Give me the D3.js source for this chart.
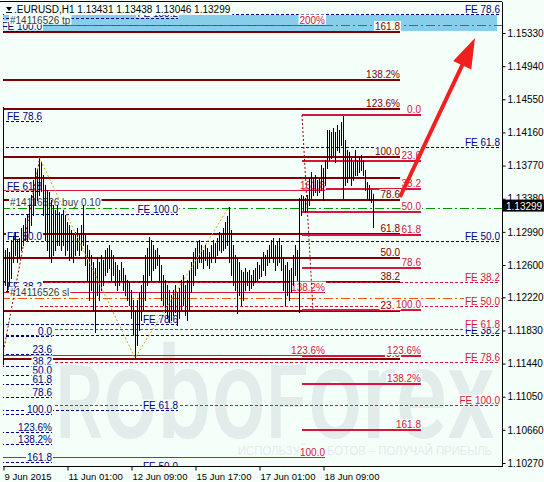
<!DOCTYPE html>
<html>
<head>
<meta charset="utf-8">
<script src="https://cdn.jsdelivr.net/npm/d3@7"></script>
<style>
  body { margin: 0; background: #F5FFFA; }
  svg { display: block; font-family: "Liberation Sans", Arial, sans-serif; }
</style>
</head>
<body>
<svg id="chart" width="544" height="482"></svg>
<script>
// ---- EURUSD H1 hourly bars (high / low) ----
const barHigh = [
  1.12835,1.12777,1.12800,1.12753,1.12894,1.12941,1.12988,1.12894,1.12918,1.13035,
  1.13071,1.13153,1.13188,1.13306,1.13424,1.13600,1.13742,1.13718,1.13871,1.13812,
  1.13659,1.13542,1.13483,1.13459,1.13365,1.13306,1.13247,1.13306,1.13224,1.13188,
  1.13247,1.13188,1.13106,1.13071,1.13012,1.12953,1.12988,1.13035,1.12953,1.13071,
  1.13306,1.12953,1.12835,1.12777,1.12718,1.12635,1.12565,1.12682,1.12635,1.12718,
  1.12659,1.12777,1.12800,1.12835,1.12777,1.12718,1.12635,1.12600,1.12541,1.12635,
  1.12565,1.12483,1.12424,1.12400,1.12306,1.12188,1.12071,1.12188,1.12282,1.12365,
  1.12483,1.12718,1.12800,1.12930,1.12894,1.12835,1.12777,1.12800,1.12718,1.12600,
  1.12483,1.12424,1.12365,1.12306,1.12247,1.12306,1.12365,1.12282,1.12329,1.12424,
  1.12483,1.12365,1.12424,1.12541,1.12635,1.12753,1.12800,1.12871,1.12894,1.12835,
  1.12777,1.12835,1.12800,1.12753,1.12835,1.12894,1.12859,1.12918,1.12988,1.12953,
  1.13035,1.13106,1.13177,1.13283,1.13012,1.12835,1.12718,1.12682,1.12635,1.12541,
  1.12518,1.12565,1.12518,1.12541,1.12483,1.12541,1.12565,1.12635,1.12600,1.12682,
  1.12753,1.12718,1.12777,1.12835,1.12894,1.12918,1.12835,1.12871,1.12918,1.12835,
  1.12682,1.12600,1.12635,1.12541,1.12565,1.12718,1.12835,1.12777,1.13389,1.13424,
  1.13412,1.13389,1.13424,1.13624,1.13695,1.13624,1.13659,1.13600,1.13624,1.13777,
  1.13742,1.13836,1.14189,1.14189,1.14165,1.14212,1.14165,1.14248,1.14189,1.14283,
  1.14354,1.14071,1.13954,1.13930,1.13859,1.13812,1.13954,1.13836,1.13859,1.13895,
  1.13836,1.13718,1.13577,1.13542,1.13483,1.13438
];
const barLow = [
  1.12483,1.12365,1.12306,1.12365,1.12447,1.12635,1.12718,1.12635,1.12682,1.12777,
  1.12835,1.12894,1.12894,1.12988,1.13071,1.13188,1.13306,1.13365,1.13424,1.13483,
  1.13188,1.12894,1.12777,1.12682,1.12635,1.12718,1.12777,1.12835,1.12835,1.12777,
  1.12835,1.12718,1.12777,1.12659,1.12682,1.12635,1.12718,1.12777,1.12718,1.12777,
  1.12835,1.12600,1.12424,1.12188,1.12306,1.12071,1.11812,1.12247,1.12188,1.12306,
  1.12365,1.12483,1.12518,1.12565,1.12424,1.12483,1.12365,1.12306,1.12365,1.12424,
  1.12306,1.12247,1.12188,1.12129,1.11977,1.11777,1.11506,1.11659,1.11836,1.11953,
  1.12071,1.12188,1.12365,1.12483,1.12424,1.12541,1.12565,1.12600,1.12424,1.12188,
  1.12129,1.12047,1.11977,1.11930,1.11953,1.12012,1.12047,1.11894,1.11977,1.12071,
  1.12129,1.12012,1.11953,1.12071,1.12282,1.12365,1.12483,1.12565,1.12635,1.12635,
  1.12565,1.12659,1.12600,1.12565,1.12635,1.12682,1.12635,1.12718,1.12777,1.12753,
  1.12777,1.12800,1.12835,1.12635,1.12483,1.12365,1.12306,1.12035,1.12247,1.12129,
  1.12188,1.12306,1.12365,1.12306,1.12329,1.12365,1.12400,1.12424,1.12447,1.12471,
  1.12541,1.12483,1.12600,1.12635,1.12682,1.12635,1.12541,1.12600,1.12635,1.12541,
  1.12306,1.12129,1.12247,1.12188,1.12282,1.12365,1.12483,1.12424,1.12047,1.13188,
  1.13247,1.13224,1.13247,1.13306,1.13389,1.13424,1.13459,1.13424,1.13459,1.13483,
  1.13365,1.13542,1.13742,1.13836,1.13859,1.13895,1.13812,1.13954,1.13930,1.14012,
  1.13389,1.13542,1.13577,1.13624,1.13542,1.13600,1.13659,1.13659,1.13695,1.13718,
  1.13659,1.13483,1.13389,1.13365,1.13341,1.13046
];

// ---- axis ticks ----
const priceTicks = [1.15330,1.14940,1.14550,1.14160,1.13770,1.13380,1.12990,
                    1.12600,1.12220,1.11830,1.11440,1.11050,1.10660,1.10270];
const timeTicks = [0, 32, 64, 96, 128, 160];
const timeLabels = ["9 Jun 2015","11 Jun 01:00","12 Jun 09:00","15 Jun 17:00","17 Jun 01:00","18 Jun 09:00"];

// ---- header quote ----
const symbolTitle = ".EURUSD,H1";
const quoteOHLC = ["1.13431","1.13438","1.13046","1.13299"];
const lastPrice = 1.13299;

// ---- Fibonacci retracement levels ----
const retrRatios = [0, 23.6, 38.2, 50, 61.8, 78.6, 100, 123.6, 138.2, 161.8];
const retrLabels = ["0.0","23.6","38.2","50.0","61.8","78.6","100.0","123.6%","138.2%","161.8"];
// maroon retracement: anchors as [bar index, price] at 0% and 100%
const maroonAnchors = [[-0.5, 1.11494], [18.5, 1.13871]];
const maroonExtraLevel = 1.13624;
// crimson retracement of the post-FOMC swing
const crimsonAnchors = [[149.5, 1.14365], [155, 1.12071]];
// navy retracement at the chart's left edge
const navyRetrPrices = [1.11765, 1.10847];

// ---- Fibonacci expansion (thin crimson) ----
const expRatios = [100, 123.6, 138.2, 161.8, 200];
const expLabels = ["100.0","123.6%","138.2%","161.8","200%"];
const expPrices = [1.05258, 1.10341];   // 0% and 100%

// ---- Fibonacci expansion sets (dashed "FE" levels) ----
const feRightRatios = [38.2, 50, 61.8, 78.6];
const feRightPrices = [1.08208, 1.17558];
const feLeftRatios = [38.2, 50, 61.8, 78.6, 100];
const feLeftPrices = [1.10411, 1.15353];
const feMidRatios = [50, 61.8, 78.6, 100, 138.2];
const feMidPrices = [1.07152, 1.13200];
const feRedRatios = [38.2, 50, 61.8, 78.6, 100];
const feRedPrices = [1.13294, 1.10952];

// ---- order lines ----
const orderId = "#14116526";
const buyPrice = 1.13271, stopPrice = 1.12212, takePrice = 1.15424;

// ---- target zone, arrow, vertical marker ----
const zonePrices = [1.15353, 1.15542];
const arrowFrom = [198.5, 1.13400], arrowTo = [236, 1.15271];
const edgeMarker = [0, 1.14460, 1.11420];

// ---- swing points joined by dotted legs ----
const swingBars = [18, 66, 113];

const W = 544, H = 482;
const P = { l: 3, t: 2, r: 502, b: 466 };
const BG = "#F5FFFA";
const MAROON = "#800000", CRIMSON = "#DC143C", NAVY = "#000080";

const x = d3.scaleLinear().domain([0, 249]).range([3, 501]);
const y = d3.scaleLinear().domain([1.10270, 1.15330]).range([463, 33]);

const svg = d3.select("#chart");
svg.append("rect").attr("width", W).attr("height", H).attr("fill", BG);
svg.append("defs").append("clipPath").attr("id", "plotClip")
  .append("rect").attr("x", P.l).attr("y", P.t).attr("width", P.r - P.l).attr("height", P.b - P.t);

const g = svg.append("g").attr("clip-path", "url(#plotClip)");

// watermark
const wm = g.append("g").attr("fill", "#E2ECEA");
const wmText = wm.append("text").attr("x", 55).attr("y", 438)
  .attr("font-family", "Roboto, 'Liberation Sans', sans-serif").attr("font-weight", 500)
  .attr("textLength", 440).attr("lengthAdjust", "spacingAndGlyphs");
[["R", 102], ["obo", 128], ["F", 102], ["orex", 128]].forEach(([s, fs]) =>
  wmText.append("tspan").attr("font-size", fs).text(s));
wm.append("text").attr("x", 238).attr("y", 455).attr("font-size", 13)
  .attr("textLength", 254).attr("lengthAdjust", "spacingAndGlyphs")
  .text("ИСПОЛЬЗУЙ РОБОТОВ – ПОЛУЧАЙ ПРИБЫЛЬ");

// target zone rectangle
g.append("rect")
  .attr("x", x(0) - 3).attr("width", x(247) - x(0) + 3)
  .attr("y", y(zonePrices[1])).attr("height", y(zonePrices[0]) - y(zonePrices[1]))
  .attr("fill", "#87CEEB");

const lineLayer = g.append("g");
const labelLayer = g.append("g");
const labels = [];

function hline(price, t0, t1, color, width, dash) {
  const yy = width % 2 ? Math.round(y(price)) + 0.5 : Math.round(y(price));
  lineLayer.append("line")
    .attr("x1", x(t0)).attr("x2", x(t1)).attr("y1", yy).attr("y2", yy)
    .attr("stroke", color).attr("stroke-width", width)
    .attr("stroke-dasharray", dash || null);
  return yy;
}
function label(text, xr, yy, color, anchor) {
  labels.push({ text, xr, yy, color, anchor: anchor || "end" });
}
function fibSet(ratios, names, p0, p100, t0, t1, color, width, dash) {
  ratios.forEach((r, i) => {
    const p = p0 + (p100 - p0) * r / 100;
    const yy = hline(p, t0, t1, color, width, dash);
    label(names[i], x(t1), yy - 2, color);
  });
}

// maroon retracement
fibSet(retrRatios, retrLabels, maroonAnchors[0][1], maroonAnchors[1][1], -1, 198.5, MAROON, 2);
hline(maroonExtraLevel, -1, 198.5, MAROON, 2);
// crimson retracement
fibSet(retrRatios, retrLabels, crimsonAnchors[0][1], crimsonAnchors[1][1], crimsonAnchors[0][0], 209, CRIMSON, 2);
// thin crimson expansion
fibSet(expRatios, expLabels, expPrices[0], expPrices[1], -1, 161, CRIMSON, 1);
// navy retracement at left
fibSet(retrRatios, retrLabels, navyRetrPrices[0], navyRetrPrices[1], -1, 24.5, NAVY, 1, "3,2");
// FE sets
const feName = r => "FE " + r.toFixed(1);
fibSet(feRightRatios, feRightRatios.map(feName), feRightPrices[0], feRightPrices[1], -1, 248.5, NAVY, 1, "3,2");
fibSet(feLeftRatios, feLeftRatios.map(feName), feLeftPrices[0], feLeftPrices[1], -1, 19.5, NAVY, 1, "3,2");
fibSet(feMidRatios, feMidRatios.map(feName), feMidPrices[0], feMidPrices[1], -1, 87.5, NAVY, 1, "3,2");
fibSet(feRedRatios, feRedRatios.map(feName), feRedPrices[0], feRedPrices[1], 18.5, 248.5, CRIMSON, 1, "3,2");

// order lines
const yBuy = hline(buyPrice, -1, 250, "#009900", 1, "9,3,2,3");
const ySl = hline(stopPrice, -1, 250, "#FF5500", 1, "9,3,2,3");
const yTp = hline(takePrice, -1, 250, "#FF2020", 1, "9,3,2,3");
label(orderId + " buy 0.10", 10, yBuy - 3, "#3a3a3a", "start");
label(orderId + " sl", 10, ySl - 3, "#3a3a3a", "start");
label(orderId + " tp", 10, yTp - 2, "#3a3a3a", "start");

// labels with background boxes
labels.forEach(d => {
  const t = labelLayer.append("text")
    .attr("x", d.xr).attr("y", d.yy).attr("font-size", 10)
    .attr("text-anchor", d.anchor).attr("fill", d.color).text(d.text);
  const w = t.node().getComputedTextLength();
  const x0 = d.anchor === "end" ? d.xr - w : d.xr;
  labelLayer.insert("rect", () => t.node())
    .attr("x", x0 - 1).attr("y", d.yy - 9).attr("width", w + 2).attr("height", 10)
    .attr("fill", BG);
});

// vertical marker on the first bar
g.append("line")
  .attr("x1", Math.round(x(edgeMarker[0])) + 0.5).attr("x2", Math.round(x(edgeMarker[0])) + 0.5)
  .attr("y1", y(edgeMarker[1])).attr("y2", y(edgeMarker[2]))
  .attr("stroke", "#000");

// price bars
g.append("g").selectAll("line").data(barHigh).join("line")
  .attr("x1", (d, i) => Math.round(x(i)) + 0.5)
  .attr("x2", (d, i) => Math.round(x(i)) + 0.5)
  .attr("y1", d => y(d))
  .attr("y2", (d, i) => y(barLow[i]) + 1)
  .attr("stroke", "#000").attr("stroke-width", 1);

// dotted swing legs
const legs = [
  [swingBars[0], barHigh[swingBars[0]]],
  [swingBars[1], barLow[swingBars[1]]],
  [swingBars[2], barHigh[swingBars[2]]]
];
g.append("path").attr("d", d3.line().x(d => x(d[0])).y(d => y(d[1]))(legs))
  .attr("fill", "none").attr("stroke", "#D4A017").attr("stroke-width", 1).attr("stroke-dasharray", "2,2");
// fib trend lines
[maroonAnchors, crimsonAnchors].forEach(a => {
  g.append("line")
    .attr("x1", x(a[0][0])).attr("y1", y(a[0][1]))
    .attr("x2", x(a[1][0])).attr("y2", y(a[1][1]))
    .attr("stroke", "#A00000").attr("stroke-width", 1).attr("stroke-dasharray", "2,2");
});

// arrow
{
  const x1 = x(arrowFrom[0]), y1 = y(arrowFrom[1]);
  const x2 = x(arrowTo[0]), y2 = y(arrowTo[1]);
  const dx = x2 - x1, dy = y2 - y1, len = Math.hypot(dx, dy);
  const ux = dx / len, uy = dy / len;
  const hl = 30, hw = 10;
  const bx = x2 - ux * hl, by = y2 - uy * hl;
  g.append("line").attr("x1", x1).attr("y1", y1).attr("x2", bx + ux * 2).attr("y2", by + uy * 2)
    .attr("stroke", "#F02020").attr("stroke-width", 4);
  g.append("path")
    .attr("d", `M${x2},${y2}L${bx - uy * hw},${by + ux * hw}L${bx + uy * hw},${by - ux * hw}Z`)
    .attr("fill", "#F02020");
}

// header
{
  const hdr = svg.append("g");
  const t = hdr.append("text").attr("x", 14).attr("y", 13).attr("font-size", 10).attr("fill", "#000")
    .text(symbolTitle + "  " + quoteOHLC.join(" "));
  const w = t.node().getComputedTextLength();
  hdr.insert("rect", () => t.node()).attr("x", P.l + 1).attr("y", P.t + 1).attr("width", w + 12).attr("height", 12).attr("fill", BG);
  hdr.append("path").attr("d", "M6,7L12,7L9,11Z").attr("fill", "#000");
  hdr.append("line").attr("x1", 6).attr("x2", 12).attr("y1", 12.5).attr("y2", 12.5).attr("stroke", "#000");
}

// frame and axes
svg.append("line").attr("x1", 0).attr("x2", P.r).attr("y1", P.t - 0.5).attr("y2", P.t - 0.5).attr("stroke", "#000");
svg.append("line").attr("x1", P.r + 0.5).attr("x2", P.r + 0.5).attr("y1", P.t).attr("y2", P.b + 1).attr("stroke", "#000");
svg.append("line").attr("x1", P.l).attr("x2", P.r).attr("y1", P.b + 0.5).attr("y2", P.b + 0.5).attr("stroke", "#000");

const yAxis = svg.append("g").attr("transform", `translate(${P.r + 0.5},0)`)
  .call(d3.axisRight(y).tickValues(priceTicks).tickFormat(d3.format(".5f")).tickSize(3).tickPadding(2));
yAxis.select(".domain").remove();
yAxis.selectAll("text").attr("font-size", 10).attr("font-family", "'Liberation Sans', Arial, sans-serif").attr("fill", "#000");

const xAxis = svg.append("g").attr("transform", `translate(0,${P.b + 0.5})`)
  .call(d3.axisBottom(x).tickValues(timeTicks).tickFormat((d, i) => timeLabels[i]).tickSize(4).tickPadding(3));
xAxis.select(".domain").remove();
xAxis.selectAll(".tick line").attr("transform", "translate(0.5,0)");
xAxis.selectAll("text").attr("font-size", 9.5).attr("font-family", "'Liberation Sans', Arial, sans-serif")
  .attr("text-anchor", "start").attr("dx", 1).attr("fill", "#000");

// last price marker
{
  const yy = y(lastPrice);
  svg.append("rect").attr("x", P.r + 1).attr("y", yy - 6).attr("width", W - P.r - 1).attr("height", 12).attr("fill", "#000");
  svg.append("text").attr("x", P.r + 4).attr("y", yy + 4).attr("font-size", 10).attr("fill", "#fff").text(d3.format(".5f")(lastPrice));
}
</script>
</body>
</html>
